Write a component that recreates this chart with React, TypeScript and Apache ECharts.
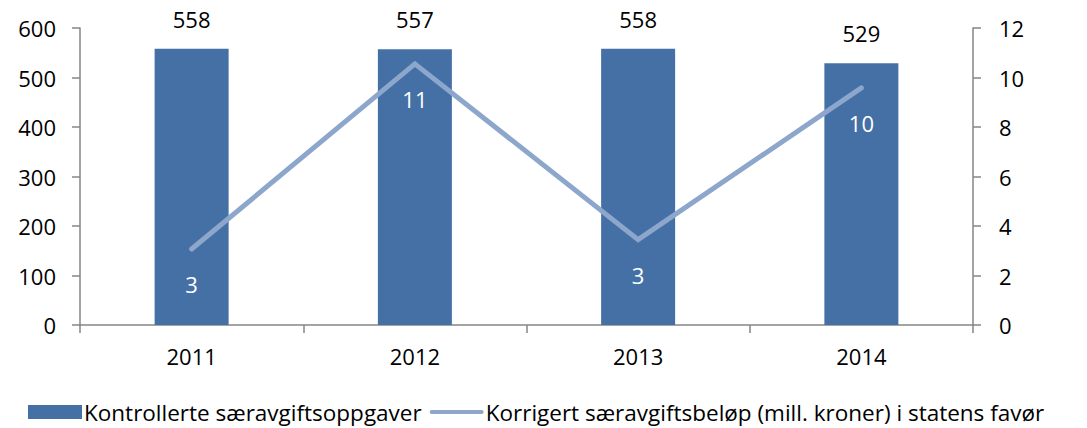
import React, { useEffect, useRef } from "react";
import * as echarts from "echarts";

const categories = ["2011", "2012", "2013", "2014"];
const barValues = [558, 557, 558, 529];
const lineValues = [3.07, 10.55, 3.45, 9.58];
const barName = "Kontrollerte særavgiftsoppgaver";
const lineName = "Korrigert særavgiftsbeløp (mill. kroner) i statens favør";

const FONT = "Open Sans";
const AXIS_COLOR = "#868686";
const BAR_COLOR = "#4470A6";
const LINE_COLOR = "#8DA6CC";

export default function App() {
  const ref = useRef<HTMLDivElement>(null);
  useEffect(() => {
    if (!ref.current) return;
    const chart = echarts.init(ref.current, undefined, { renderer: "svg" });
    chart.setOption({
      animation: false,
      textStyle: { fontFamily: FONT },
      grid: { left: 80, right: 114, top: 28, bottom: 103, containLabel: false },
      legend: {
        top: 400,
        left: 28,
        padding: 0,
        itemWidth: 54,
        itemHeight: 14,
        itemGap: 8,
        textStyle: {
          fontFamily: FONT,
          fontSize: 22.5,
          lineHeight: 24,
          color: "#000",
          padding: [0, 0, 0, -3],
        },
        data: [
          { name: barName, icon: "rect", itemStyle: { color: BAR_COLOR } },
          {
            name: lineName,
            icon: "path://M2,0 L52,0 A2,2 0 0 1 52,4 L2,4 A2,2 0 0 1 2,0 Z",
            itemStyle: { color: LINE_COLOR, borderWidth: 0 },
          },
        ],
      },
      xAxis: {
        type: "category",
        data: categories,
        axisLine: { lineStyle: { color: AXIS_COLOR, width: 1.5 } },
        axisTick: { show: true, length: 8, lineStyle: { color: AXIS_COLOR, width: 1.5 } },
        axisLabel: { color: "#000", fontSize: 22, margin: 20, fontFamily: FONT },
      },
      yAxis: [
        {
          type: "value",
          min: 0,
          max: 600,
          interval: 100,
          splitLine: { show: false },
          axisLine: { show: true, lineStyle: { color: AXIS_COLOR, width: 1.5 } },
          axisTick: { show: true, length: 8, lineStyle: { color: AXIS_COLOR, width: 1.5 } },
          axisLabel: { color: "#000", fontSize: 22, margin: 24, fontFamily: FONT },
        },
        {
          type: "value",
          min: 0,
          max: 12,
          interval: 2,
          position: "right",
          splitLine: { show: false },
          axisLine: { show: true, lineStyle: { color: AXIS_COLOR, width: 1.5 } },
          axisTick: { show: true, length: 8, lineStyle: { color: AXIS_COLOR, width: 1.5 } },
          axisLabel: { color: "#000", fontSize: 22, margin: 26, fontFamily: FONT },
        },
      ],
      series: [
        {
          name: barName,
          type: "bar",
          data: barValues,
          barWidth: 74,
          itemStyle: { color: BAR_COLOR },
          label: {
            show: true,
            position: "top",
            distance: 19,
            color: "#000",
            fontSize: 22,
            fontFamily: FONT,
          },
        },
        {
          name: lineName,
          type: "line",
          yAxisIndex: 1,
          data: lineValues,
          symbol: "circle",
          symbolSize: 0,
          showSymbol: true,
          lineStyle: { color: LINE_COLOR, width: 5, cap: "round", join: "miter" },
          itemStyle: { color: LINE_COLOR },
          label: {
            show: true,
            position: "bottom",
            distance: 24,
            color: "#fff",
            fontSize: 22,
            fontFamily: FONT,
            formatter: (p: any) => String(Math.round(p.value)),
          },
        },
      ],
    });
    return () => chart.dispose();
  }, []);
  return <div ref={ref} style={{ width: 1087, height: 428, position: "absolute", left: 0, top: 0 }} />;
}
